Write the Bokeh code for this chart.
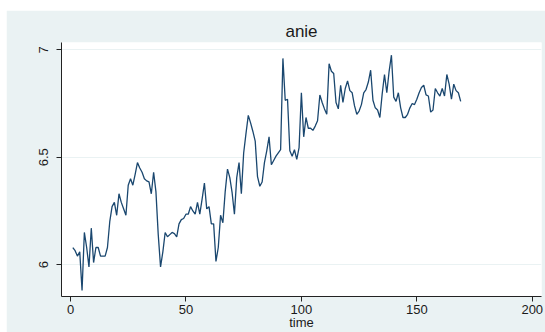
from bokeh.plotting import figure
from bokeh.models import Range1d, FixedTicker
from bokeh.embed import file_html
from bokeh.resources import INLINE

time = list(range(1, 170))
anie = [
    6.08, 6.065, 6.04, 6.06, 5.88, 6.15, 6.08, 5.99, 6.17, 6.01,
    6.08, 6.08, 6.04, 6.04, 6.04, 6.08, 6.20, 6.27, 6.29, 6.23,
    6.33, 6.29, 6.26, 6.23, 6.37, 6.40, 6.37, 6.42, 6.475, 6.45,
    6.43, 6.40, 6.39, 6.385, 6.33, 6.43, 6.34, 6.14, 5.99, 6.06,
    6.15, 6.13, 6.14, 6.15, 6.145, 6.13, 6.19, 6.21, 6.215, 6.235,
    6.235, 6.27, 6.25, 6.235, 6.29, 6.235, 6.305, 6.38, 6.26, 6.27,
    6.19, 6.19, 6.015, 6.08, 6.23, 6.195, 6.34, 6.445, 6.405, 6.335,
    6.235, 6.405, 6.475, 6.33, 6.52, 6.61, 6.695, 6.66, 6.62, 6.575,
    6.41, 6.365, 6.385, 6.475, 6.53, 6.595, 6.465, 6.485, 6.505, 6.52,
    6.535, 6.96, 6.765, 6.77, 6.53, 6.505, 6.535, 6.49, 6.545, 6.80,
    6.595, 6.685, 6.635, 6.635, 6.625, 6.645, 6.67, 6.79, 6.755, 6.725,
    6.70, 6.935, 6.90, 6.89, 6.755, 6.725, 6.835, 6.755, 6.82, 6.855,
    6.81, 6.80, 6.74, 6.70, 6.715, 6.745, 6.80, 6.815, 6.85, 6.905,
    6.765, 6.73, 6.72, 6.685, 6.795, 6.885, 6.80, 6.90, 6.975, 6.78,
    6.76, 6.80, 6.73, 6.685, 6.685, 6.70, 6.73, 6.75, 6.745, 6.77,
    6.80, 6.825, 6.835, 6.79, 6.785, 6.71, 6.72, 6.82, 6.80, 6.785,
    6.82, 6.785, 6.885, 6.84, 6.77, 6.84, 6.81, 6.80, 6.76,
]
x_ticks = [0, 50, 100, 150, 200]
y_ticks = [6, 6.5, 7]

BG = "#EAF2F3"
FONT = "Liberation Sans"

p = figure(width=539, height=322, output_backend="svg", toolbar_location=None,
           x_range=Range1d(-3.9, 204), y_range=Range1d(5.852, 7.034),
           title="anie", min_border_left=55, min_border_right=4,
           min_border_top=32, min_border_bottom=35)
p.margin = (10, 0, 0, 6)

p.background_fill_color = "white"
p.border_fill_color = BG
p.outline_line_color = None

p.title.align = "center"
p.title.text_font = FONT
p.title.text_font_size = "17px"
p.title.text_font_style = "normal"
p.title.text_color = "#1a1a1a"
p.title.standoff = 3

p.line(time, anie, line_color="#1A476F", line_width=1.3)

p.xgrid.visible = False
p.ygrid.ticker = FixedTicker(ticks=y_ticks)
p.ygrid.grid_line_color = BG
p.ygrid.grid_line_width = 1

p.xaxis.ticker = FixedTicker(ticks=x_ticks)
p.yaxis.ticker = FixedTicker(ticks=y_ticks)
p.xaxis.axis_label = "time"
p.yaxis.major_label_overrides = {6: "6", 6.5: "6.5", 7: "7"}
p.yaxis.major_label_orientation = "vertical"

for ax in (p.xaxis[0], p.yaxis[0]):
    ax.axis_line_color = "#222222"
    ax.major_tick_line_color = "#222222"
    ax.major_tick_out = 5
    ax.major_tick_in = 0
    ax.minor_tick_line_color = None
    ax.major_label_text_font = FONT
    ax.major_label_text_font_size = "13px"
    ax.major_label_text_color = "#1a1a1a"
    ax.axis_label_text_font = FONT
    ax.axis_label_text_font_size = "13px"
    ax.axis_label_text_font_style = "normal"
    ax.axis_label_text_color = "#1a1a1a"

p.xaxis.major_label_standoff = 3
p.xaxis.axis_label_standoff = -2
p.yaxis.major_label_standoff = 8

open("out.html", "w").write(file_html(p, INLINE))
